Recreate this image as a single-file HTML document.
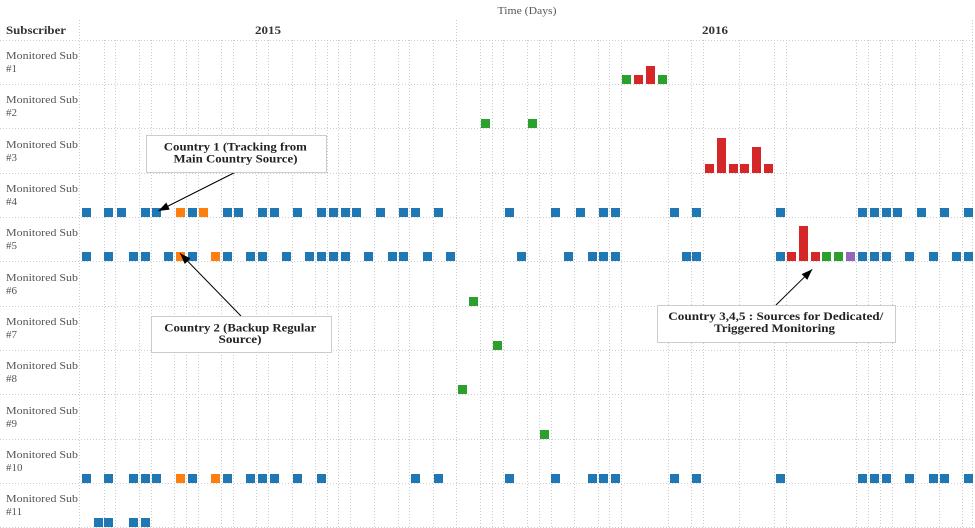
<!DOCTYPE html>
<html>
<head>
<meta charset="utf-8">
<style>
html,body{margin:0;padding:0;background:#fff;}
svg{display:block;}
.lbl{font-family:"Liberation Serif",serif;font-size:11px;fill:#555;}
.bold{font-family:"Liberation Serif",serif;font-weight:bold;font-size:12px;fill:#333;}
.ann{font-family:"Liberation Serif",serif;font-weight:bold;font-size:12px;fill:#222;}
.g{stroke:#cdcdcd;stroke-width:1;stroke-dasharray:1 2;}
</style>
</head>
<body>
<svg width="975" height="528" viewBox="0 0 975 528" xmlns="http://www.w3.org/2000/svg">
<defs>
<marker id="ah" viewBox="0 0 11 8" refX="11" refY="4" markerWidth="11" markerHeight="8" markerUnits="userSpaceOnUse" orient="auto">
<path d="M0,0 L11,4 L0,8 z" fill="#000"/>
</marker>
</defs>

<!-- header texts -->
<text class="lbl" x="527" y="14" text-anchor="middle" textLength="59" lengthAdjust="spacingAndGlyphs">Time (Days)</text>
<text class="bold" x="6" y="34" textLength="60" lengthAdjust="spacingAndGlyphs">Subscriber</text>
<text class="bold" x="268" y="34" text-anchor="middle" textLength="26" lengthAdjust="spacingAndGlyphs">2015</text>
<text class="bold" x="715" y="34" text-anchor="middle" textLength="26" lengthAdjust="spacingAndGlyphs">2016</text>

<!-- header dividers -->
<g class="g">
<line x1="79.5" y1="20" x2="79.5" y2="528"/>
<line x1="456.5" y1="20" x2="456.5" y2="528"/>
<line x1="972.5" y1="20" x2="972.5" y2="528"/>
</g>

<!-- vertical grid -->
<g class="g">
<line x1="104.5" y1="40" x2="104.5" y2="528"/>
<line x1="115.5" y1="40" x2="115.5" y2="528"/>
<line x1="139.5" y1="40" x2="139.5" y2="528"/>
<line x1="151.5" y1="40" x2="151.5" y2="528"/>
<line x1="174.5" y1="40" x2="174.5" y2="528"/>
<line x1="186.5" y1="40" x2="186.5" y2="528"/>
<line x1="198.5" y1="40" x2="198.5" y2="528"/>
<line x1="221.5" y1="40" x2="221.5" y2="528"/>
<line x1="233.5" y1="40" x2="233.5" y2="528"/>
<line x1="256.5" y1="40" x2="256.5" y2="528"/>
<line x1="268.5" y1="40" x2="268.5" y2="528"/>
<line x1="292.5" y1="40" x2="292.5" y2="528"/>
<line x1="315.5" y1="40" x2="315.5" y2="528"/>
<line x1="327.5" y1="40" x2="327.5" y2="528"/>
<line x1="338.5" y1="40" x2="338.5" y2="528"/>
<line x1="350.5" y1="40" x2="350.5" y2="528"/>
<line x1="374.5" y1="40" x2="374.5" y2="528"/>
<line x1="398.5" y1="40" x2="398.5" y2="528"/>
<line x1="409.5" y1="40" x2="409.5" y2="528"/>
<line x1="433.5" y1="40" x2="433.5" y2="528"/>
<line x1="480.5" y1="40" x2="480.5" y2="528"/>
<line x1="492.5" y1="40" x2="492.5" y2="528"/>
<line x1="503.5" y1="40" x2="503.5" y2="528"/>
<line x1="527.5" y1="40" x2="527.5" y2="528"/>
<line x1="539.5" y1="40" x2="539.5" y2="528"/>
<line x1="551.5" y1="40" x2="551.5" y2="528"/>
<line x1="574.5" y1="40" x2="574.5" y2="528"/>
<line x1="598.5" y1="40" x2="598.5" y2="528"/>
<line x1="609.5" y1="40" x2="609.5" y2="528"/>
<line x1="621.5" y1="40" x2="621.5" y2="528"/>
<line x1="668.5" y1="40" x2="668.5" y2="528"/>
<line x1="691.5" y1="40" x2="691.5" y2="528"/>
<line x1="703.5" y1="40" x2="703.5" y2="528"/>
<line x1="739.5" y1="40" x2="739.5" y2="528"/>
<line x1="774.5" y1="40" x2="774.5" y2="528"/>
<line x1="786.5" y1="40" x2="786.5" y2="528"/>
<line x1="856.5" y1="40" x2="856.5" y2="528"/>
<line x1="868.5" y1="40" x2="868.5" y2="528"/>
<line x1="880.5" y1="40" x2="880.5" y2="528"/>
<line x1="892.5" y1="40" x2="892.5" y2="528"/>
<line x1="915.5" y1="40" x2="915.5" y2="528"/>
<line x1="939.5" y1="40" x2="939.5" y2="528"/>
<line x1="962.5" y1="40" x2="962.5" y2="528"/>
</g>

<!-- horizontal grid -->
<g class="g">
<line x1="0" y1="40.5" x2="975" y2="40.5"/>
<line x1="0" y1="84.5" x2="975" y2="84.5"/>
<line x1="0" y1="128.5" x2="975" y2="128.5"/>
<line x1="0" y1="173.5" x2="975" y2="173.5"/>
<line x1="0" y1="217.5" x2="975" y2="217.5"/>
<line x1="0" y1="261.5" x2="975" y2="261.5"/>
<line x1="0" y1="306.5" x2="975" y2="306.5"/>
<line x1="0" y1="350.5" x2="975" y2="350.5"/>
<line x1="0" y1="394.5" x2="975" y2="394.5"/>
<line x1="0" y1="439.5" x2="975" y2="439.5"/>
<line x1="0" y1="483.5" x2="975" y2="483.5"/>
<line x1="0" y1="527.5" x2="975" y2="527.5"/>
</g>

<!-- row labels -->
<g class="lbl">
<text x="6" y="59" textLength="72" lengthAdjust="spacingAndGlyphs">Monitored Sub</text><text x="6" y="72">#1</text>
<text x="6" y="103" textLength="72" lengthAdjust="spacingAndGlyphs">Monitored Sub</text><text x="6" y="116">#2</text>
<text x="6" y="148" textLength="72" lengthAdjust="spacingAndGlyphs">Monitored Sub</text><text x="6" y="161">#3</text>
<text x="6" y="192" textLength="72" lengthAdjust="spacingAndGlyphs">Monitored Sub</text><text x="6" y="205">#4</text>
<text x="6" y="236" textLength="72" lengthAdjust="spacingAndGlyphs">Monitored Sub</text><text x="6" y="249">#5</text>
<text x="6" y="281" textLength="72" lengthAdjust="spacingAndGlyphs">Monitored Sub</text><text x="6" y="294">#6</text>
<text x="6" y="325" textLength="72" lengthAdjust="spacingAndGlyphs">Monitored Sub</text><text x="6" y="338">#7</text>
<text x="6" y="369" textLength="72" lengthAdjust="spacingAndGlyphs">Monitored Sub</text><text x="6" y="382">#8</text>
<text x="6" y="414" textLength="72" lengthAdjust="spacingAndGlyphs">Monitored Sub</text><text x="6" y="427">#9</text>
<text x="6" y="458" textLength="72" lengthAdjust="spacingAndGlyphs">Monitored Sub</text><text x="6" y="471">#10</text>
<text x="6" y="502" textLength="72" lengthAdjust="spacingAndGlyphs">Monitored Sub</text><text x="6" y="515">#11</text>
</g>

<!-- Row 1 -->
<rect x="622" y="75" width="9" height="9" fill="#2ca02c"/>
<rect x="634" y="75" width="9" height="9" fill="#d62728"/>
<rect x="646" y="66" width="9" height="18" fill="#d62728"/>
<rect x="658" y="75" width="9" height="9" fill="#2ca02c"/>

<!-- Row 2 -->
<rect x="481" y="119" width="9" height="9" fill="#2ca02c"/>
<rect x="528" y="119" width="9" height="9" fill="#2ca02c"/>

<!-- Row 3 -->
<g fill="#d62728">
<rect x="705" y="164" width="9" height="9"/>
<rect x="717" y="138" width="9" height="35"/>
<rect x="729" y="164" width="9" height="9"/>
<rect x="740" y="164" width="9" height="9"/>
<rect x="752" y="147" width="9" height="26"/>
<rect x="764" y="164" width="9" height="9"/>
</g>

<!-- Row 4 -->
<g fill="#1f77b4">
<rect x="82" y="208" width="9" height="9"/><rect x="104" y="208" width="9" height="9"/><rect x="117" y="208" width="9" height="9"/>
<rect x="141" y="208" width="9" height="9"/><rect x="152" y="208" width="9" height="9"/><rect x="188" y="208" width="9" height="9"/>
<rect x="223" y="208" width="9" height="9"/><rect x="234" y="208" width="9" height="9"/><rect x="258" y="208" width="9" height="9"/>
<rect x="270" y="208" width="9" height="9"/><rect x="293" y="208" width="9" height="9"/><rect x="317" y="208" width="9" height="9"/>
<rect x="329" y="208" width="9" height="9"/><rect x="341" y="208" width="9" height="9"/><rect x="352" y="208" width="9" height="9"/>
<rect x="376" y="208" width="9" height="9"/><rect x="399" y="208" width="9" height="9"/><rect x="411" y="208" width="9" height="9"/>
<rect x="434" y="208" width="9" height="9"/><rect x="505" y="208" width="9" height="9"/><rect x="551" y="208" width="9" height="9"/>
<rect x="576" y="208" width="9" height="9"/><rect x="599" y="208" width="9" height="9"/><rect x="611" y="208" width="9" height="9"/>
<rect x="670" y="208" width="9" height="9"/><rect x="692" y="208" width="9" height="9"/><rect x="776" y="208" width="9" height="9"/>
<rect x="858" y="208" width="9" height="9"/><rect x="870" y="208" width="9" height="9"/><rect x="882" y="208" width="9" height="9"/>
<rect x="893" y="208" width="9" height="9"/><rect x="917" y="208" width="9" height="9"/><rect x="940" y="208" width="9" height="9"/>
<rect x="964" y="208" width="9" height="9"/>
</g>
<rect x="176" y="208" width="9" height="9" fill="#ff7f0e"/>
<rect x="199" y="208" width="9" height="9" fill="#ff7f0e"/>

<!-- Row 5 -->
<g fill="#1f77b4">
<rect x="82" y="252" width="9" height="9"/><rect x="104" y="252" width="9" height="9"/><rect x="129" y="252" width="9" height="9"/>
<rect x="141" y="252" width="9" height="9"/><rect x="164" y="252" width="9" height="9"/><rect x="188" y="252" width="9" height="9"/>
<rect x="223" y="252" width="9" height="9"/><rect x="246" y="252" width="9" height="9"/><rect x="258" y="252" width="9" height="9"/>
<rect x="282" y="252" width="9" height="9"/><rect x="305" y="252" width="9" height="9"/><rect x="317" y="252" width="9" height="9"/>
<rect x="329" y="252" width="9" height="9"/><rect x="341" y="252" width="9" height="9"/><rect x="364" y="252" width="9" height="9"/>
<rect x="388" y="252" width="9" height="9"/><rect x="399" y="252" width="9" height="9"/><rect x="423" y="252" width="9" height="9"/>
<rect x="446" y="252" width="9" height="9"/><rect x="517" y="252" width="9" height="9"/><rect x="564" y="252" width="9" height="9"/>
<rect x="588" y="252" width="9" height="9"/><rect x="599" y="252" width="9" height="9"/><rect x="611" y="252" width="9" height="9"/>
<rect x="682" y="252" width="9" height="9"/><rect x="692" y="252" width="9" height="9"/><rect x="776" y="252" width="9" height="9"/>
<rect x="858" y="252" width="9" height="9"/><rect x="870" y="252" width="9" height="9"/><rect x="882" y="252" width="9" height="9"/>
<rect x="905" y="252" width="9" height="9"/><rect x="929" y="252" width="9" height="9"/><rect x="952" y="252" width="9" height="9"/>
<rect x="964" y="252" width="9" height="9"/>
</g>
<rect x="176" y="252" width="9" height="9" fill="#ff7f0e"/>
<rect x="211" y="252" width="9" height="9" fill="#ff7f0e"/>
<rect x="787" y="252" width="9" height="9" fill="#d62728"/>
<rect x="799" y="226" width="9" height="35" fill="#d62728"/>
<rect x="811" y="252" width="9" height="9" fill="#d62728"/>
<rect x="822" y="252" width="9" height="9" fill="#2ca02c"/>
<rect x="834" y="252" width="9" height="9" fill="#2ca02c"/>
<rect x="846" y="252" width="9" height="9" fill="#9467bd"/>

<!-- Rows 6-9 -->
<rect x="469" y="297" width="9" height="9" fill="#2ca02c"/>
<rect x="493" y="341" width="9" height="9" fill="#2ca02c"/>
<rect x="458" y="385" width="9" height="9" fill="#2ca02c"/>
<rect x="540" y="430" width="9" height="9" fill="#2ca02c"/>

<!-- Row 10 -->
<g fill="#1f77b4">
<rect x="82" y="474" width="9" height="9"/><rect x="104" y="474" width="9" height="9"/><rect x="129" y="474" width="9" height="9"/>
<rect x="141" y="474" width="9" height="9"/><rect x="152" y="474" width="9" height="9"/><rect x="188" y="474" width="9" height="9"/>
<rect x="223" y="474" width="9" height="9"/><rect x="246" y="474" width="9" height="9"/><rect x="258" y="474" width="9" height="9"/>
<rect x="270" y="474" width="9" height="9"/><rect x="293" y="474" width="9" height="9"/><rect x="317" y="474" width="9" height="9"/>
<rect x="411" y="474" width="9" height="9"/><rect x="434" y="474" width="9" height="9"/><rect x="505" y="474" width="9" height="9"/>
<rect x="551" y="474" width="9" height="9"/><rect x="588" y="474" width="9" height="9"/><rect x="599" y="474" width="9" height="9"/>
<rect x="611" y="474" width="9" height="9"/><rect x="670" y="474" width="9" height="9"/><rect x="692" y="474" width="9" height="9"/>
<rect x="776" y="474" width="9" height="9"/><rect x="858" y="474" width="9" height="9"/><rect x="870" y="474" width="9" height="9"/>
<rect x="882" y="474" width="9" height="9"/><rect x="905" y="474" width="9" height="9"/><rect x="929" y="474" width="9" height="9"/>
<rect x="940" y="474" width="9" height="9"/><rect x="964" y="474" width="9" height="9"/>
</g>
<rect x="176" y="474" width="9" height="9" fill="#ff7f0e"/>
<rect x="211" y="474" width="9" height="9" fill="#ff7f0e"/>

<!-- Row 11 -->
<g fill="#1f77b4">
<rect x="94" y="518" width="9" height="9"/><rect x="104" y="518" width="9" height="9"/>
<rect x="129" y="518" width="9" height="9"/><rect x="141" y="518" width="9" height="9"/>
</g>

<!-- Annotations -->
<line x1="235.7" y1="172" x2="158.3" y2="211" stroke="#000" stroke-width="1" marker-end="url(#ah)"/>
<rect x="146.5" y="135.5" width="180" height="37" fill="#fff" stroke="#cccccc"/>
<text class="ann" x="235.3" y="150.5" text-anchor="middle" textLength="143" lengthAdjust="spacingAndGlyphs">Country 1 (Tracking from</text>
<text class="ann" x="235.5" y="162.5" text-anchor="middle" textLength="124" lengthAdjust="spacingAndGlyphs">Main Country Source)</text>

<line x1="241" y1="316" x2="180" y2="253.3" stroke="#000" stroke-width="1" marker-end="url(#ah)"/>
<rect x="151.5" y="316.5" width="180" height="36" fill="#fff" stroke="#cccccc"/>
<text class="ann" x="240.3" y="331.5" text-anchor="middle" textLength="152" lengthAdjust="spacingAndGlyphs">Country 2 (Backup Regular</text>
<text class="ann" x="240" y="343" text-anchor="middle" textLength="43" lengthAdjust="spacingAndGlyphs">Source)</text>

<line x1="776" y1="305" x2="812.3" y2="269.3" stroke="#000" stroke-width="1" marker-end="url(#ah)"/>
<rect x="657.5" y="305.5" width="238" height="37" fill="#fff" stroke="#cccccc"/>
<text class="ann" x="775.8" y="320" text-anchor="middle" textLength="215" lengthAdjust="spacingAndGlyphs">Country 3,4,5 : Sources for Dedicated/</text>
<text class="ann" x="774.5" y="332" text-anchor="middle" textLength="121" lengthAdjust="spacingAndGlyphs">Triggered Monitoring</text>
</svg>
</body>
</html>
